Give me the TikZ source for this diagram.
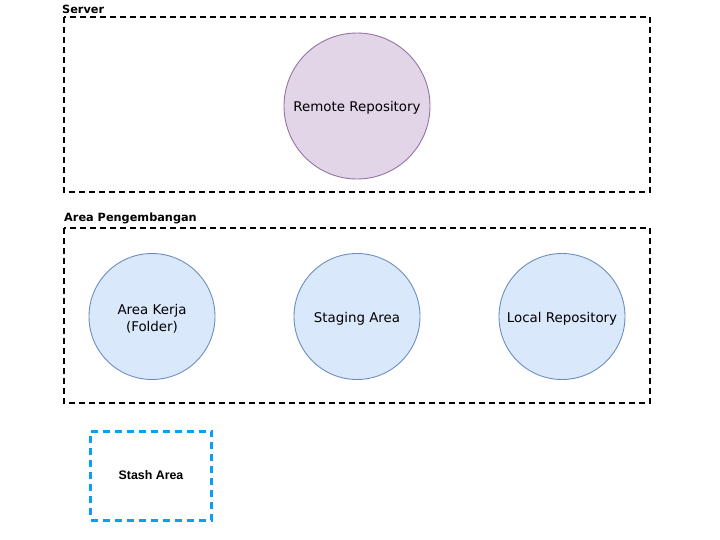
\documentclass[tikz,border=0pt]{standalone}
\usepackage{fontspec}
\newfontfamily\dvs{DejaVu Sans}
\newfontfamily\lsans{Liberation Sans}
\definecolor{bluefill}{HTML}{DAE8FC}
\definecolor{bluedraw}{HTML}{6C8EBF}
\definecolor{purplefill}{HTML}{E1D5E7}
\definecolor{purpledraw}{HTML}{9673A6}
\definecolor{stashblue}{HTML}{0A9EF5}
\begin{document}
\begin{tikzpicture}[x=1pt,y=-1pt,
  group/.style={draw=black,line width=1.5pt,dash pattern=on 6pt off 4pt},
  grouplabel/.style={anchor=base west,inner sep=0pt,font=\dvs\fontsize{11.3}{13}\selectfont\bfseries},
  circletext/.style={align=center,font=\dvs\fontsize{13.4}{17}\selectfont,yshift=-2pt},
  bluecircle/.style={circle,draw=bluedraw,fill=bluefill,line width=0.9pt,minimum size=126pt,inner sep=0pt},
  purplecircle/.style={circle,draw=purpledraw,fill=purplefill,line width=0.9pt,minimum size=146pt,inner sep=0pt},
  stashbox/.style={draw=stashblue,line width=3pt,dash pattern=on 7pt off 5pt,minimum width=121pt,minimum height=89pt,inner sep=0pt,font=\lsans\fontsize{12.4}{15}\selectfont\bfseries}
]
\useasboundingbox (0,0) rectangle (720,540);
\fill[white] (0,0) rectangle (720,540);
% Server group
\draw[group] (64,17) rectangle (650,192);
\node[grouplabel] (serverlbl) at (62,14) {Server};
\node[purplecircle,label={[circletext]center:Remote Repository}] (remote) at (357,106) {};
% Area Pengembangan group
\draw[group] (64,228) rectangle (650,403);
\node[grouplabel] (arealbl) at (64,222) {Area Pengembangan};
\node[bluecircle,label={[circletext]center:Area Kerja\\(Folder)}] (kerja) at (152,316.5) {};
\node[bluecircle,label={[circletext]center:Staging Area}] (staging) at (357,316.5) {};
\node[bluecircle,label={[circletext]center:Local Repository}] (local) at (562,316.5) {};
% Stash
\node[stashbox] (stash) at (151,475.5) {Stash Area};
\end{tikzpicture}
\end{document}
